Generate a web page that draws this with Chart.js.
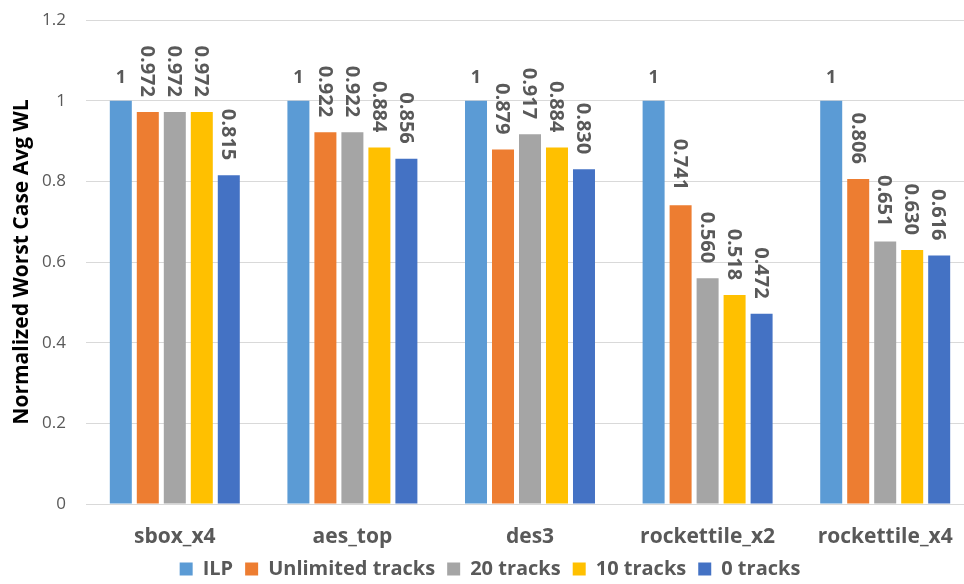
<!DOCTYPE html>
<html>
<head>
<meta charset="utf-8">
<script src="https://cdn.jsdelivr.net/npm/chart.js@4.4.1/dist/chart.umd.min.js"></script>
<style>
  html, body { margin: 0; padding: 0; background: #fff; overflow: hidden; }
  #wrap { width: 976px; height: 584px; position: relative; }
</style>
</head>
<body>
<div id="wrap"><canvas id="wlChart"></canvas></div>
<script>
// designs on the x axis
var designs = ["sbox_x4", "aes_top", "des3", "rockettile_x2", "rockettile_x4"];

// normalized worst case average wirelength per routing setup
var ilp       = [1, 1, 1, 1, 1];
var unlimited = [0.972, 0.922, 0.879, 0.741, 0.806];
var tracks20  = [0.972, 0.922, 0.917, 0.560, 0.651];
var tracks10  = [0.972, 0.884, 0.884, 0.518, 0.630];
var tracks0   = [0.815, 0.856, 0.830, 0.472, 0.616];

var yTicks = [0, 0.2, 0.4, 0.6, 0.8, 1, 1.2];

var textGray = "#595959";
var font = "'Open Sans', 'Noto Sans', sans-serif";

function fmt(v){
    return v === 1 ? "1" : v.toFixed(3);
}

// value labels above each bar, "1" flat, the rest turned to read downwards
var barLabels = {
    id: "barLabels",
    afterDatasetsDraw: function(chart){
        var c = chart.ctx;
        c.save();
        c.fillStyle = textGray;
        chart.data.datasets.forEach(function(ds, di){
            var meta = chart.getDatasetMeta(di);
            meta.data.forEach(function(bar, i){
                var txt = fmt(ds.data[i]);
                if(txt === "1"){
                    c.font = "bold 18px " + font;
                    c.textAlign = "center";
                    c.textBaseline = "alphabetic";
                    c.fillText(txt, bar.x, bar.y - 18);
                } else {
                    c.save();
                    c.font = "bold 20px " + font;
                    c.translate(bar.x - 1, bar.y - 15);
                    c.rotate(Math.PI / 2);
                    c.textAlign = "right";
                    c.textBaseline = "middle";
                    c.fillText(txt, 0, 0);
                    c.restore();
                }
            });
        });
        c.restore();
    }
};

// short legend strip, nudged up a little under the category names
var legendFit = {
    id: "legendFit",
    beforeLayout: function(chart){
        var lg = chart.legend;
        if(lg && !lg._shortFit){
            var fit = lg.fit;
            lg.fit = function(){
                fit.call(this);
                this.height = 33;
            };
            lg._shortFit = true;
        }
    },
    afterLayout: function(chart){
        var lg = chart.legend;
        if(lg){
            lg.top -= 4;
            lg.bottom -= 4;
        }
    }
};

var ctx = document.getElementById("wlChart").getContext('2d');

var data = {
    labels: designs,
    datasets: [
        { label: "ILP",              data: ilp,       backgroundColor: "#5B9BD5" },
        { label: "Unlimited tracks", data: unlimited, backgroundColor: "#ED7D31" },
        { label: "20 tracks",        data: tracks20,  backgroundColor: "#A5A5A5" },
        { label: "10 tracks",        data: tracks10,  backgroundColor: "#FFC000" },
        { label: "0 tracks",         data: tracks0,   backgroundColor: "#4472C4" }
    ]
};

var options = {
    responsive: true,
    maintainAspectRatio: false,
    animation: false,
    layout: { padding: { left: 6, right: 2, top: 0, bottom: 0 } },
    datasets: {
        bar: { categoryPercentage: 0.76, barPercentage: 0.815 }
    },
    plugins: {
        tooltip: { enabled: false },
        legend: {
            position: "bottom",
            labels: {
                boxWidth: 13,
                boxHeight: 13,
                padding: 12,
                color: textGray,
                font: { family: font, size: 20, weight: "bold", lineHeight: 1 }
            }
        }
    },
    scales: {
        x: {
            grid: { display: false, drawTicks: false },
            border: { color: "#d9d9d9" },
            ticks: {
                color: textGray,
                padding: 20,
                font: { family: font, size: 21, weight: "bold" }
            },
            afterFit: function(s){ s.height = 47; }
        },
        y: {
            min: 0,
            max: 1.2,
            border: { display: false },
            grid: { color: "#d9d9d9", drawTicks: false },
            afterBuildTicks: function(s){
                s.ticks = yTicks.map(function(v){ return { value: v }; });
            },
            ticks: {
                color: textGray,
                padding: 20,
                font: { family: font, size: 17 },
                callback: function(v){ return String(Math.round(v * 10) / 10); }
            },
            title: {
                display: true,
                text: "Normalized Worst Case Avg WL",
                color: "#000",
                padding: { top: 3, bottom: 4 },
                font: { family: font, size: 21, weight: "bold" }
            },
            afterFit: function(s){
                s.width = 80;
                s.paddingTop = 20;
                s.paddingBottom = 0;
            }
        }
    }
};

var wlChart = new Chart(ctx, {
    type: 'bar',
    data: data,
    options: options,
    plugins: [barLabels, legendFit]
});
</script>
</body>
</html>
